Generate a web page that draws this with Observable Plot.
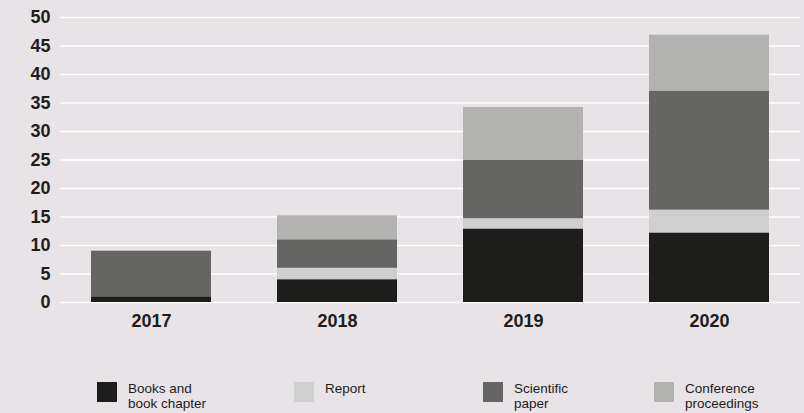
<!DOCTYPE html>
<html>
<head>
<meta charset="utf-8">
<script src="https://cdn.jsdelivr.net/npm/d3@7"></script>
<script src="https://cdn.jsdelivr.net/npm/@observablehq/plot@0.6"></script>
<style>
  html, body { margin: 0; padding: 0; background: #e7e3e6; }
  #wrap { position: relative; width: 804px; height: 413px; overflow: hidden; background: #e7e3e6; font-family: "Liberation Sans", Arial, Helvetica, sans-serif; }
  #chart { position: absolute; left: 0; top: 0; }
  #legend { position: absolute; left: 0; top: 380px; width: 804px; height: 33px; }
  .item { position: absolute; top: 0; display: flex; align-items: flex-start; }
  .sw { width: 20px; height: 20px; flex: none; margin-top: 2px; }
  .lab { margin-left: 11px; font-size: 13.5px; line-height: 15px; color: #1d1d1b; padding-top: 1px; white-space: nowrap; }
</style>
</head>
<body>
<div id="wrap">
  <div id="chart"></div>
  <div id="legend"></div>
</div>
<script>
const years = ["2017", "2018", "2019", "2020"];
const seriesNames = ["Books and book chapter", "Report", "Scientific paper", "Conference proceedings"];
const legendLabels = [["Books and", "book chapter"], ["Report"], ["Scientific", "paper"], ["Conference", "proceedings"]];
const seriesColors = ["#1d1d1b", "#cfcfcf", "#656563", "#b2b2b0"];
const books = [1, 4, 12.9, 12.2];
const report = [0, 2, 1.8, 4.0];
const scientific = [8, 5, 10.3, 20.9];
const conference = [0, 4.2, 9.2, 9.8];
const yTicks = [0, 5, 10, 15, 20, 25, 30, 35, 40, 45, 50];
const legendX = [97, 294, 483, 654];

const seriesValues = [books, report, scientific, conference];
const data = [];
years.forEach((yr, i) => {
  seriesNames.forEach((s, j) => {
    data.push({year: yr, series: s, value: seriesValues[j][i]});
  });
});

const chart = Plot.plot({
  width: 804,
  height: 345,
  marginLeft: 60,
  marginRight: 4,
  marginTop: 17,
  marginBottom: 43,
  style: {background: "transparent", fontFamily: "'Liberation Sans', Arial, sans-serif", color: "#1d1d1b"},
  x: {domain: years, paddingInner: 0.357, paddingOuter: 0.16, label: null},
  y: {domain: [0, 50], label: null},
  color: {domain: seriesNames, range: seriesColors},
  marks: [
    Plot.gridY(yTicks, {stroke: "#ffffff", strokeOpacity: 1, strokeWidth: 1.5}),
    Plot.barY(data, {x: "year", y: "value", fill: "series", order: seriesNames}),
    Plot.axisY(yTicks, {tickSize: 0, tickPadding: 10, fontSize: 18, fontWeight: "bold", fill: "#1d1d1b", label: null}),
    Plot.axisX({tickSize: 0, tickPadding: 12, fontSize: 18, fontWeight: "bold", fill: "#1d1d1b", label: null})
  ]
});
document.getElementById("chart").appendChild(chart);

const legend = document.getElementById("legend");
seriesNames.forEach((s, j) => {
  const item = document.createElement("div");
  item.className = "item";
  item.style.left = legendX[j] + "px";
  const sw = document.createElement("div");
  sw.className = "sw";
  sw.style.background = seriesColors[j];
  const lab = document.createElement("div");
  lab.className = "lab";
  lab.innerHTML = legendLabels[j].join("<br>");
  item.appendChild(sw);
  item.appendChild(lab);
  legend.appendChild(item);
});
</script>
</body>
</html>
